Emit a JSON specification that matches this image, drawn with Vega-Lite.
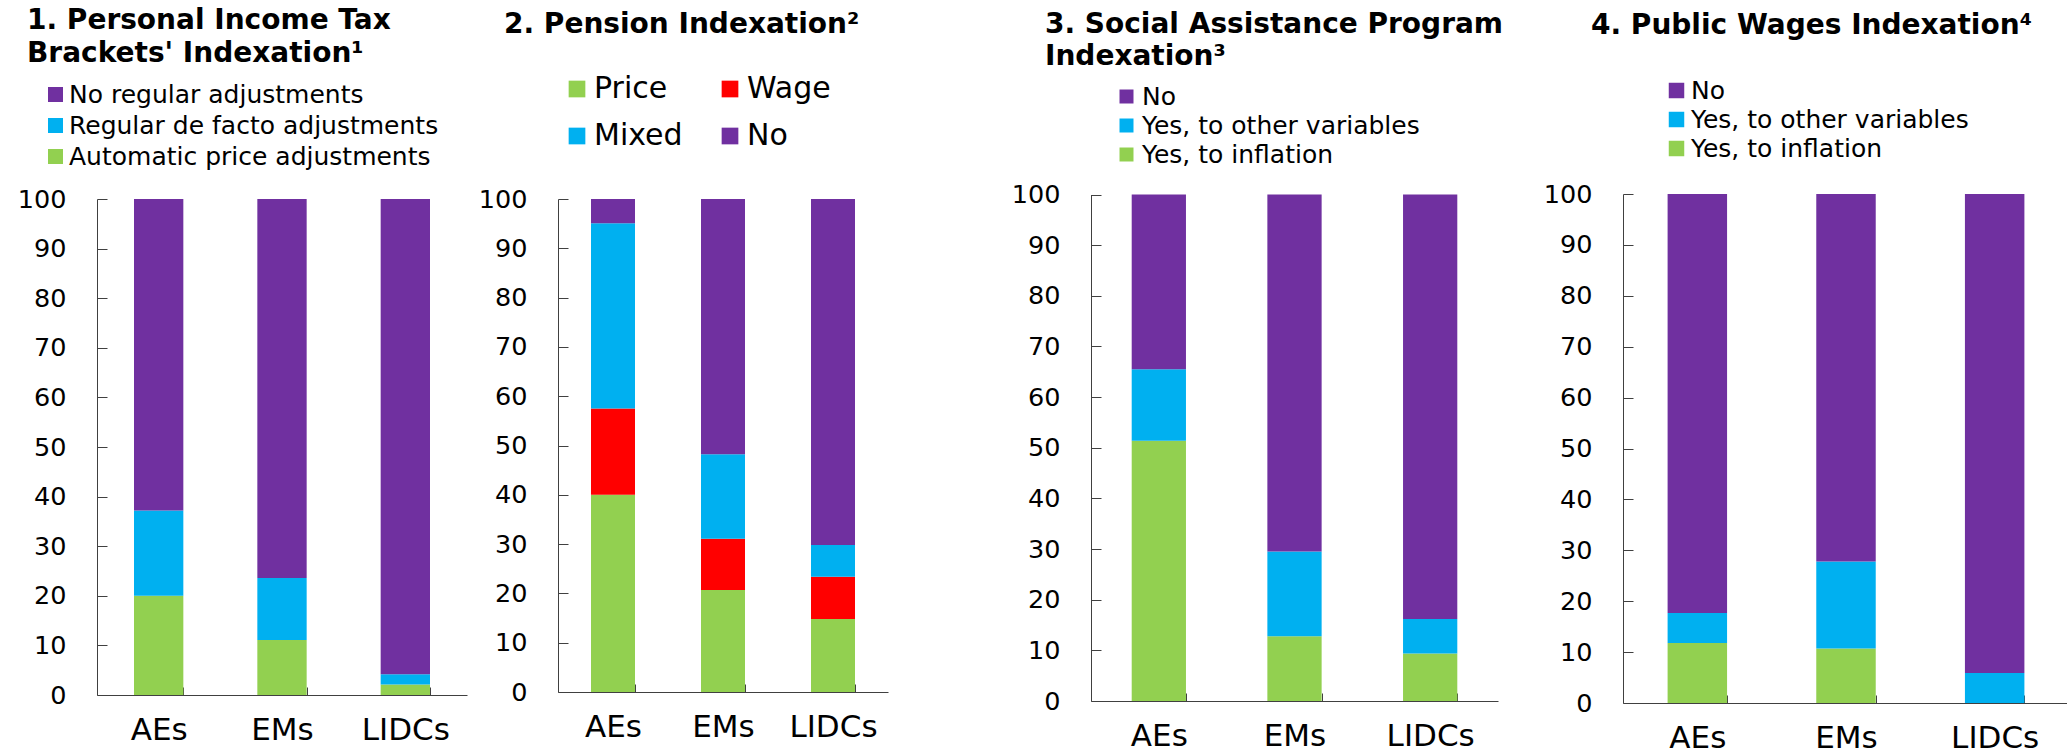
{
  "$schema": "https://vega.github.io/schema/vega-lite/v6.json",
  "padding": {"left": 17, "top": 7, "right": 0, "bottom": 0},
  "background": "white",
  "datasets": {
    "t": [
      {"p": 1, "g": "AEs", "c": "Automatic price adjustments", "o": 1, "v": 20.0},
      {"p": 1, "g": "AEs", "c": "Regular de facto adjustments", "o": 2, "v": 17.2},
      {"p": 1, "g": "AEs", "c": "No regular adjustments", "o": 3, "v": 62.8},
      {"p": 1, "g": "EMs", "c": "Automatic price adjustments", "o": 1, "v": 11.1},
      {"p": 1, "g": "EMs", "c": "Regular de facto adjustments", "o": 2, "v": 12.5},
      {"p": 1, "g": "EMs", "c": "No regular adjustments", "o": 3, "v": 76.4},
      {"p": 1, "g": "LIDCs", "c": "Automatic price adjustments", "o": 1, "v": 2.1},
      {"p": 1, "g": "LIDCs", "c": "Regular de facto adjustments", "o": 2, "v": 2.1},
      {"p": 1, "g": "LIDCs", "c": "No regular adjustments", "o": 3, "v": 95.8},
      {"p": 2, "g": "AEs", "c": "Price", "o": 1, "v": 40.0},
      {"p": 2, "g": "AEs", "c": "Wage", "o": 2, "v": 17.5},
      {"p": 2, "g": "AEs", "c": "Mixed", "o": 3, "v": 37.6},
      {"p": 2, "g": "AEs", "c": "No", "o": 4, "v": 4.9},
      {"p": 2, "g": "EMs", "c": "Price", "o": 1, "v": 20.7},
      {"p": 2, "g": "EMs", "c": "Wage", "o": 2, "v": 10.4},
      {"p": 2, "g": "EMs", "c": "Mixed", "o": 3, "v": 17.1},
      {"p": 2, "g": "EMs", "c": "No", "o": 4, "v": 51.8},
      {"p": 2, "g": "LIDCs", "c": "Price", "o": 1, "v": 14.8},
      {"p": 2, "g": "LIDCs", "c": "Wage", "o": 2, "v": 8.6},
      {"p": 2, "g": "LIDCs", "c": "Mixed", "o": 3, "v": 6.4},
      {"p": 2, "g": "LIDCs", "c": "No", "o": 4, "v": 70.2},
      {"p": 3, "g": "AEs", "c": "Yes, to inflation", "o": 1, "v": 51.4},
      {"p": 3, "g": "AEs", "c": "Yes, to other variables", "o": 2, "v": 14.1},
      {"p": 3, "g": "AEs", "c": "No", "o": 3, "v": 34.5},
      {"p": 3, "g": "EMs", "c": "Yes, to inflation", "o": 1, "v": 12.8},
      {"p": 3, "g": "EMs", "c": "Yes, to other variables", "o": 2, "v": 16.7},
      {"p": 3, "g": "EMs", "c": "No", "o": 3, "v": 70.5},
      {"p": 3, "g": "LIDCs", "c": "Yes, to inflation", "o": 1, "v": 9.4},
      {"p": 3, "g": "LIDCs", "c": "Yes, to other variables", "o": 2, "v": 6.8},
      {"p": 3, "g": "LIDCs", "c": "No", "o": 3, "v": 83.8},
      {"p": 4, "g": "AEs", "c": "Yes, to inflation", "o": 1, "v": 11.8},
      {"p": 4, "g": "AEs", "c": "Yes, to other variables", "o": 2, "v": 5.9},
      {"p": 4, "g": "AEs", "c": "No", "o": 3, "v": 82.3},
      {"p": 4, "g": "EMs", "c": "Yes, to inflation", "o": 1, "v": 10.7},
      {"p": 4, "g": "EMs", "c": "Yes, to other variables", "o": 2, "v": 17.1},
      {"p": 4, "g": "EMs", "c": "No", "o": 3, "v": 72.2},
      {"p": 4, "g": "LIDCs", "c": "Yes, to inflation", "o": 1, "v": 0},
      {"p": 4, "g": "LIDCs", "c": "Yes, to other variables", "o": 2, "v": 5.9},
      {"p": 4, "g": "LIDCs", "c": "No", "o": 3, "v": 94.1}
    ]
  },
  "spacing": 91,
  "bounds": "flush",
  "resolve": {"scale": {"color": "independent", "x": "independent", "y": "independent"}, "legend": {"color": "independent"}},
  "hconcat": [
    {
      "width": 370, "height": 501,
      "title": {"text": ["1. Personal Income Tax", "Brackets' Indexation¹"], "anchor": "start", "frame": "group", "dx": -70, "offset": -14, "baseline": "bottom", "fontSize": 28, "lineHeight": 33, "fontWeight": "bold", "font": "DejaVu Sans", "color": "black"},
      "data": {"name": "t"},
      "transform": [{"filter": "datum.p == 1"}],
      "mark": {"type": "bar"},
      "encoding": {
        "x": {"field": "g", "type": "nominal", "sort": ["AEs", "EMs", "LIDCs"], "scale": {"range": [0, 370], "paddingInner": 0.6, "paddingOuter": 0.3}},
        "y": {"field": "v", "type": "quantitative", "stack": "zero", "scale": {"domain": [0, 100], "nice": false, "range": [501, 5]}, "axis": {"values": [0, 10, 20, 30, 40, 50, 60, 70, 80, 90, 100]}},
        "color": {"field": "c", "type": "nominal", "scale": {"domain": ["No regular adjustments", "Regular de facto adjustments", "Automatic price adjustments"], "range": ["#7030A0", "#00B0F0", "#92D050"]},
          "legend": {"title": null, "orient": "none", "legendX": -54, "legendY": -112, "symbolType": "square", "symbolSize": 225, "symbolStrokeWidth": 0, "labelFontSize": 25, "labelOffset": 1, "rowPadding": 5, "labelLimit": 800}},
        "order": {"field": "o", "type": "quantitative"}
      }
    },
    {
      "width": 442, "height": 498,
      "title": {"text": "2. Pension Indexation²", "anchor": "start", "frame": "group", "dx": -54, "offset": 7, "baseline": "bottom", "fontSize": 28, "lineHeight": 33, "fontWeight": "bold", "font": "DejaVu Sans", "color": "black"},
      "data": {"name": "t"},
      "transform": [{"filter": "datum.p == 2"}],
      "mark": {"type": "bar"},
      "encoding": {
        "x": {"field": "g", "type": "nominal", "sort": ["AEs", "EMs", "LIDCs"], "scale": {"range": [0, 330], "paddingInner": 0.6, "paddingOuter": 0.3}},
        "y": {"field": "v", "type": "quantitative", "stack": "zero", "scale": {"domain": [0, 100], "nice": false, "range": [498, 5]}, "axis": {"values": [0, 10, 20, 30, 40, 50, 60, 70, 80, 90, 100]}},
        "color": {"field": "c", "type": "nominal", "scale": {"domain": ["Price", "Wage", "Mixed", "No"], "range": ["#92D050", "#FF0000", "#00B0F0", "#7030A0"]},
          "legend": {"title": null, "orient": "none", "legendX": 4, "legendY": -120, "columns": 2, "direction": "horizontal", "columnPadding": 32, "symbolType": "square", "symbolSize": 279, "symbolStrokeWidth": 0, "labelFontSize": 30, "labelOffset": 2, "rowPadding": 17, "labelLimit": 800}},
        "order": {"field": "o", "type": "quantitative"}
      }
    },
    {
      "width": 441, "height": 507,
      "title": {"text": ["3. Social Assistance Program", "Indexation³"], "anchor": "start", "frame": "group", "dx": -46, "offset": -15, "baseline": "bottom", "fontSize": 28, "lineHeight": 32, "fontWeight": "bold", "font": "DejaVu Sans", "color": "black"},
      "data": {"name": "t"},
      "transform": [{"filter": "datum.p == 3"}],
      "mark": {"type": "bar"},
      "encoding": {
        "x": {"field": "g", "type": "nominal", "sort": ["AEs", "EMs", "LIDCs"], "scale": {"range": [0, 407], "paddingInner": 0.6, "paddingOuter": 0.3}},
        "y": {"field": "v", "type": "quantitative", "stack": "zero", "scale": {"domain": [0, 100], "nice": false, "range": [507, 0.5]}, "axis": {"values": [0, 10, 20, 30, 40, 50, 60, 70, 80, 90, 100]}},
        "color": {"field": "c", "type": "nominal", "scale": {"domain": ["No", "Yes, to other variables", "Yes, to inflation"], "range": ["#7030A0", "#00B0F0", "#92D050"]},
          "legend": {"title": null, "orient": "none", "legendX": 23, "legendY": -110, "symbolType": "square", "symbolSize": 196, "symbolStrokeWidth": 0, "labelFontSize": 25, "labelOffset": 3, "rowPadding": 3, "labelLimit": 800}},
        "order": {"field": "o", "type": "quantitative"}
      }
    },
    {
      "width": 446, "height": 509,
      "title": {"text": "4. Public Wages Indexation⁴", "anchor": "start", "frame": "group", "dx": -32, "offset": 10, "baseline": "bottom", "fontSize": 28, "lineHeight": 33, "fontWeight": "bold", "font": "DejaVu Sans", "color": "black"},
      "data": {"name": "t"},
      "transform": [{"filter": "datum.p == 4"}],
      "mark": {"type": "bar"},
      "encoding": {
        "x": {"field": "g", "type": "nominal", "sort": ["AEs", "EMs", "LIDCs"], "scale": {"range": [0, 446], "paddingInner": 0.6, "paddingOuter": 0.3}},
        "y": {"field": "v", "type": "quantitative", "stack": "zero", "scale": {"domain": [0, 100], "nice": false, "range": [509, 0]}, "axis": {"values": [0, 10, 20, 30, 40, 50, 60, 70, 80, 90, 100]}},
        "color": {"field": "c", "type": "nominal", "scale": {"domain": ["No", "Yes, to other variables", "Yes, to inflation"], "range": ["#7030A0", "#00B0F0", "#92D050"]},
          "legend": {"title": null, "orient": "none", "legendX": 41, "legendY": -116, "symbolType": "square", "symbolSize": 240, "symbolStrokeWidth": 0, "labelFontSize": 25, "labelOffset": 2, "rowPadding": 3, "labelLimit": 800}},
        "order": {"field": "o", "type": "quantitative"}
      }
    }
  ],
  "config": {
    "font": "DejaVu Sans",
    "view": {"stroke": null},
    "axis": {"grid": false, "title": null, "labelFont": "DejaVu Sans", "labelColor": "black", "domainColor": "#404040", "tickColor": "#404040", "domainWidth": 1, "tickWidth": 1},
    "axisX": {"labelAngle": 0, "labelFontSize": 31, "tickBand": "extent", "tickSize": -8, "labelPadding": 28},
    "axisY": {"labelFontSize": 25.5, "tickSize": -10, "labelPadding": 41},
    "legend": {"labelFont": "DejaVu Sans", "labelColor": "black"}
  }
}
